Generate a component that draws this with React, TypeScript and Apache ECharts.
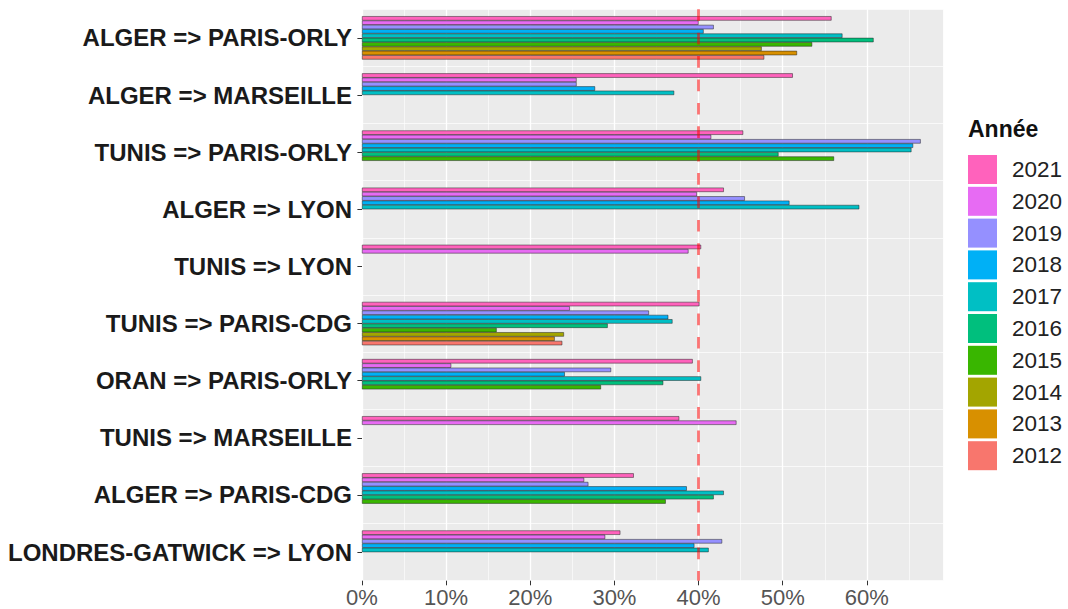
import React, { useEffect, useRef } from "react";
import * as echarts from "echarts";

const categories = [
  "ALGER => PARIS-ORLY",
  "ALGER => MARSEILLE",
  "TUNIS => PARIS-ORLY",
  "ALGER => LYON",
  "TUNIS => LYON",
  "TUNIS => PARIS-CDG",
  "ORAN => PARIS-ORLY",
  "TUNIS => MARSEILLE",
  "ALGER => PARIS-CDG",
  "LONDRES-GATWICK => LYON",
];

const years = ["2021", "2020", "2019", "2018", "2017", "2016", "2015", "2014", "2013", "2012"];

const v2021 = [55.8, 51.2, 45.3, 43.0, 40.3, 40.1, 39.3, 37.7, 32.3, 30.7];
const v2020 = [40.0, 25.5, 41.5, 39.8, 38.8, 24.7, 10.6, 44.5, 26.4, 28.9];
const v2019 = [41.8, 25.5, 66.4, 45.5, null, 34.1, 29.6, null, 26.9, 42.8];
const v2018 = [40.6, 27.7, 65.5, 50.8, null, 36.4, 24.1, null, 38.6, 39.5];
const v2017 = [57.1, 37.1, 65.3, 59.1, null, 36.9, 40.3, null, 43.0, 41.2];
const v2016 = [60.8, null, 49.5, null, null, 29.2, 35.8, null, 41.8, null];
const v2015 = [53.5, null, 56.1, null, null, 16.0, 28.4, null, 36.1, null];
const v2014 = [47.5, null, null, null, null, 24.0, null, null, null, null];
const v2013 = [51.7, null, null, null, null, 22.9, null, null, null, null];
const v2012 = [47.8, null, null, null, null, 23.8, null, null, null, null];

const values = [v2021, v2020, v2019, v2018, v2017, v2016, v2015, v2014, v2013, v2012];

const colors = [
  "#FF62BC", "#E76BF3", "#9590FF", "#00B0F6", "#00BFC4",
  "#00BF7D", "#39B600", "#A3A500", "#D89000", "#F8766D",
];

const xTicks = [0, 10, 20, 30, 40, 50, 60];
const threshold = 40;
const xMax = 69.09;

export default function App() {
  const ref = useRef<HTMLDivElement>(null);

  useEffect(() => {
    document.body.style.margin = "0";
    const chart = echarts.init(ref.current!, null, { renderer: "svg" });
    const series: any[] = years.map((y, i) => ({
      name: y,
      type: "bar",
      data: values[i],
      itemStyle: { color: colors[i], borderColor: "#222", borderWidth: 0.5 },
      barGap: "0%",
      barCategoryGap: "24.2%",
      emphasis: { disabled: true },
      ...(i === 0
        ? {
            markLine: {
              silent: true,
              symbol: "none",
              label: { show: false },
              lineStyle: { color: "rgba(255,0,0,0.55)", type: [11.7, 11.7], width: 2.7 },
              data: [{ xAxis: threshold }],
              z: 10,
            },
          }
        : {}),
    }));

    chart.setOption({
      animation: false,
      textStyle: { fontFamily: "Liberation Sans" },
      grid: {
        left: 362,
        top: 9.3,
        width: 581.3,
        height: 571.4,
        show: true,
        backgroundColor: "#EBEBEB",
        borderWidth: 0,
      },
      xAxis: [
        {
          type: "value",
          min: 0,
          max: xMax,
          interval: 10,
          axisLine: { show: false },
          axisTick: { show: true, length: 4.6, lineStyle: { color: "#333" }, customValues: xTicks },
          axisLabel: {
            customValues: xTicks,
            formatter: (v: number) => (v % 10 === 0 ? v + "%" : ""),
            fontSize: 22,
            color: "#555",
            margin: 6,
            fontFamily: "Liberation Sans",
          },
          splitLine: { show: true, lineStyle: { color: "#FFFFFF", width: 1.3 } },
        },
        {
          type: "value",
          min: 0,
          max: xMax,
          interval: 5,
          position: "bottom",
          axisLine: { show: false },
          axisTick: { show: false },
          axisLabel: { show: false },
          splitLine: { show: true, lineStyle: { color: "#FFFFFF", width: 0.6 } },
        },
      ],
      yAxis: {
        type: "category",
        data: categories,
        inverse: true,
        axisLine: { show: false },
        axisTick: { show: true, alignWithLabel: true, length: 4.6, lineStyle: { color: "#333" } },
        axisLabel: {
          fontSize: 24,
          fontWeight: "bold",
          color: "#1a1a1a",
          margin: 10,
          fontFamily: "Liberation Sans",
        },
        splitLine: { show: true, lineStyle: { color: "#FFFFFF", width: 0.7 } },
      },
      legend: {
        orient: "vertical",
        left: 968,
        top: 155,
        padding: 0,
        itemWidth: 29,
        itemHeight: 29,
        itemGap: 2.8,
        icon: "rect",
        data: years,
        itemStyle: { borderWidth: 0 },
        textStyle: { fontSize: 22.5, color: "#222", padding: [0, 0, 0, 10], fontFamily: "Liberation Sans" },
        selectedMode: false,
      },
      graphic: [
        {
          type: "text",
          left: 968,
          top: 117,
          style: {
            text: "Année",
            fontSize: 23,
            fontWeight: "bold",
            fill: "#111",
            fontFamily: "Liberation Sans",
          },
        },
      ],
      series,
    });
    return () => chart.dispose();
  }, []);

  return <div ref={ref} style={{ width: 1068, height: 609 }} />;
}
